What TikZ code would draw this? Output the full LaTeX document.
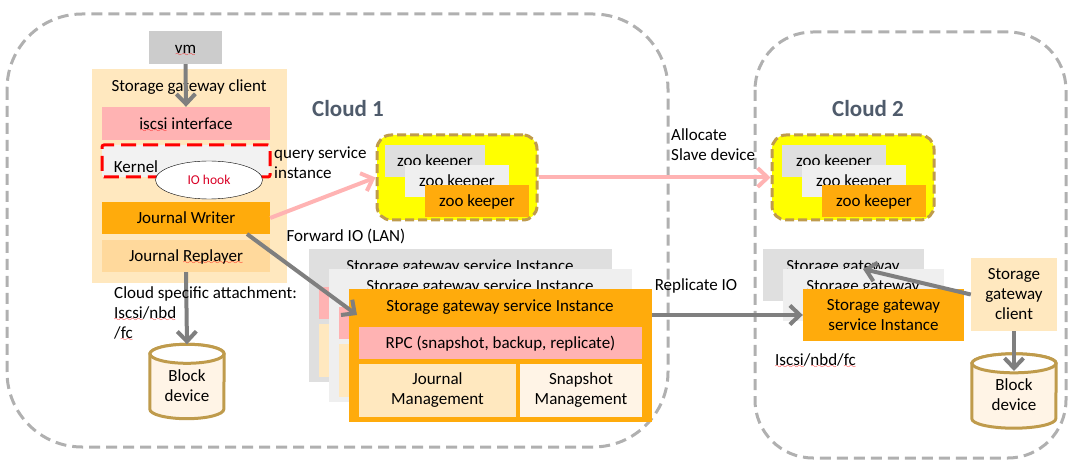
\documentclass[tikz,border=0pt]{standalone}
\usepackage{fontspec}
\usetikzlibrary{arrows.meta,shapes.geometric}
\setmainfont{Carlito}

\definecolor{boxgray}{HTML}{CCCCCC}
\definecolor{backgray}{HTML}{DFDFDF}
\definecolor{midgray}{HTML}{EFEFEF}
\definecolor{kernelgray}{HTML}{F2F2F2}
\definecolor{cloudline}{HTML}{B0B0B0}
\definecolor{cloudtext}{HTML}{4F5B6B}
\definecolor{cream}{HTML}{FFE8BF}
\definecolor{lightcream}{HTML}{FFF4E6}
\definecolor{sand}{HTML}{FFD99C}
\definecolor{rose}{HTML}{FFB3B3}
\definecolor{amber}{HTML}{FFAB0C}
\definecolor{bronze}{HTML}{BF9B4C}
\definecolor{arrowgray}{HTML}{7F7F7F}
\definecolor{zooyellow}{HTML}{FFFF00}

\font\wavefont=lasy8
\newsavebox{\spellbox}
\newcommand{\spell}[1]{\leavevmode\sbox{\spellbox}{#1}\rlap{\lower3pt\hbox to \wd\spellbox{\color{red}\wavefont\xleaders\hbox{\char58}\hfil}}\usebox{\spellbox}}

% Drum round a node; #1 node name, #2 half width.
\newcommand{\drum}[2]{
	\draw[blockline, fill=lightcream] ([yshift=-9.5pt]#1.north west) -- ([yshift=9.5pt]#1.south west)
		arc[start angle=180, end angle=360, x radius=#2, y radius=9.5pt] -- ([yshift=-9.5pt]#1.north east)
		arc[start angle=0, end angle=180, x radius=#2, y radius=9.5pt] -- cycle;
	\draw[blockline, fill=white] ([yshift=-9.5pt]#1.north) ellipse [x radius=#2, y radius=9.5pt];
}

\tikzset{
	every node/.style={font=\fontsize{17}{20}\selectfont, inner sep=0pt, align=center},
	>={Straight Barb[length=10pt,width=19pt,line width=4pt]},
	oneline/.style={text height=14pt, text depth=2.4pt},
	panel/.style={minimum width=#1},
	tall/.style={minimum height=#1},
	cloudbox/.style={draw=cloudline, line width=3pt, dash pattern=on 11pt off 6pt},
	zoogroup/.style={draw=bronze, fill=zooyellow, line width=3pt, dash pattern=on 9pt off 4pt, rounded corners=14pt, minimum width=160pt, minimum height=85pt},
	zoobox/.style={oneline, minimum width=104pt, minimum height=32pt},
	cloudtitle/.style={font=\fontsize{23}{26}\bfseries\selectfont, text=cloudtext},
	blockline/.style={draw=bronze, line width=3pt},
	greyarrow/.style={->, draw=arrowgray, line width=4pt},
	pinkarrow/.style={->, draw=rose, line width=4pt}
}

\begin{document}
\begin{tikzpicture}[x=1pt,y=-1pt]
	\useasboundingbox (0,0) rectangle (1074,470);

	% Clouds.
	\draw[cloudbox, rounded corners=75pt] (7,14) rectangle (668,447);
	\draw[cloudbox, rounded corners=58pt] (755,32) rectangle (1066,458);
	\node[cloudtitle] (cloudone) at (348,109) {Cloud 1};
	\node[cloudtitle] (cloudtwo) at (868,109) {Cloud 2};

	% Storage gateway client, cloud 1.
	\node[oneline, fill=boxgray, panel=73pt, tall=33pt] (vm) at (185.5,47.5) {\spell{vm}};
	\node[fill=cream, panel=195pt, tall=214pt] (clientbg) at (189.5,176) {};
	\node[oneline] (clienttitle) at (189,85.5) {Storage gateway client};
	\node[oneline, fill=rose, panel=168pt, tall=33pt] (iscsi) at (186,123.5) {\spell{iscsi} interface};
	\node[fill=kernelgray, draw=red, line width=3pt, dash pattern=on 15pt off 7pt, rounded corners=2pt, panel=168pt, tall=32pt] (kernel) at (186,161) {};
	\node[oneline] (kerneltext) at (136,167) {Kernel};
	\node[ellipse, draw=black, fill=white, minimum width=107pt, minimum height=38pt, text=red!85!blue, font=\fontsize{13.5}{16}\selectfont] (iohook) at (209,180) {IO hook};
	\node[oneline, fill=amber, panel=168pt, tall=32pt] (jwriter) at (186,218) {Journal Writer};
	\node[oneline, fill=sand, panel=168pt, tall=32pt] (jreplayer) at (186,256) {Journal \spell{Replayer}};
	\node[panel=74pt, tall=74pt] (lblock) at (187,381.5) {};
	\drum{lblock}{37pt}
	\node (lblocktext) at (187,386) {Block\\device};

	% Zoo keepers.
	\node[zoogroup] (zooone) at (457,177.5) {};
	\node[fill=backgray, zoobox, panel=100pt] (zooonea) at (435,161) {zoo keeper};
	\node[fill=midgray, zoobox] (zoooneb) at (457,181) {zoo keeper};
	\node[fill=amber, zoobox] (zoooned) at (477,201) {zoo keeper};
	\node[zoogroup, minimum width=162pt] (zootwo) at (853,177.5) {};
	\node[fill=backgray, zoobox] (zootwoa) at (834,161) {zoo keeper};
	\node[fill=midgray, zoobox] (zootwob) at (854,181) {zoo keeper};
	\node[fill=amber, zoobox] (zootwod) at (874,201) {zoo keeper};

	% Service instances, cloud 1.
	\node[fill=backgray, panel=303pt, tall=133pt] (servback) at (460.5,315.5) {};
	\node[oneline] (servbacktext) at (460,266) {Storage gateway service Instance};
	\node[fill=rose, panel=283pt, tall=32pt] (rpcback) at (460.5,303) {};
	\node[fill=cream, panel=283pt, tall=53pt] (jmback) at (460.5,350.5) {};
	\node[fill=midgray, panel=303pt, tall=133pt] (servmid) at (480.5,335.5) {};
	\node[oneline] (servmidtext) at (480,286) {Storage gateway service Instance};
	\node[fill=rose, panel=283pt, tall=32pt] (rpcmid) at (480.5,323) {};
	\node[fill=cream, panel=283pt, tall=53pt] (jmmid) at (480.5,370.5) {};
	\node[fill=amber, panel=303pt, tall=133pt] (servfront) at (500.5,355.5) {};
	\node[oneline] (servfronttext) at (500,306) {Storage gateway service Instance};
	\node[oneline, fill=rose, panel=283pt, tall=32pt] (rpcfront) at (500.5,343) {RPC (snapshot, backup, replicate)};
	\node[fill=cream, panel=157pt, tall=53pt] (jmfront) at (437.5,390.5) {Journal\\Management};
	\node[fill=lightcream, panel=122pt, tall=53pt] (smfront) at (581,390.5) {Snapshot\\Management};

	% Service instances, cloud 2.
	\node[fill=backgray, panel=161pt, tall=52pt] (rservback) at (843.5,275) {};
	\node[oneline] (rservbacktext) at (843,266) {Storage gateway};
	\node[fill=midgray, panel=161pt, tall=52pt] (rservmid) at (863.5,295) {};
	\node[oneline] (rservmidtext) at (863,286) {Storage gateway};
	\node[fill=amber, panel=161pt, tall=52pt] (rservfront) at (883.5,315) {Storage gateway\\service Instance};
	\node[fill=cream, panel=86pt, tall=73pt] (rclient) at (1014,294.5) {Storage\\gateway\\client};
	\node[panel=84pt, tall=74pt] (rblock) at (1014,391) {};
	\drum{rblock}{42pt}
	\node (rblocktext) at (1014,395) {Block\\device};

	% Arrows.
	\coordinate (fwdstart) at (247,234);
	\coordinate (fwdend) at (357,315);
	\coordinate (rclienttip) at (863,269);
	\coordinate (rblocktip) at (1014,371);
	\draw[greyarrow] (vm.south) -- (iscsi.north);
	\draw[greyarrow] (jreplayer.south) -- (lblock.north);
	\draw[greyarrow] (fwdstart) -- (fwdend);
	\draw[greyarrow] (servfront.east |- rservfront.west) -- (rservfront.west);
	\draw[greyarrow] (rclient.west) -- (rclienttip);
	\draw[greyarrow] (rclient.south) -- (rblocktip);
	\draw[pinkarrow] (jwriter.east) -- (zooone.west);
	\draw[pinkarrow] (zooone.east) -- (zootwo.west);

	% Labels.
	\node[anchor=west, align=left] (querylabel) at (274,163) {query service\\instance};
	\node[oneline] (forwardlabel) at (346,236) {Forward IO (LAN)};
	\node[anchor=west, align=left] (allocatelabel) at (671,145) {Allocate\\Slave device};
	\node[oneline] (replicatelabel) at (696,285) {Replicate IO};
	\node[anchor=west, align=left] (attachlabel) at (114,314) {Cloud specific attachment:\\\spell{Iscsi}/\spell{nbd}\\/\spell{fc}};
	\node[oneline, anchor=west] (rattachlabel) at (775,360) {\spell{Iscsi}/\spell{nbd}/\spell{fc}};
\end{tikzpicture}
\end{document}
